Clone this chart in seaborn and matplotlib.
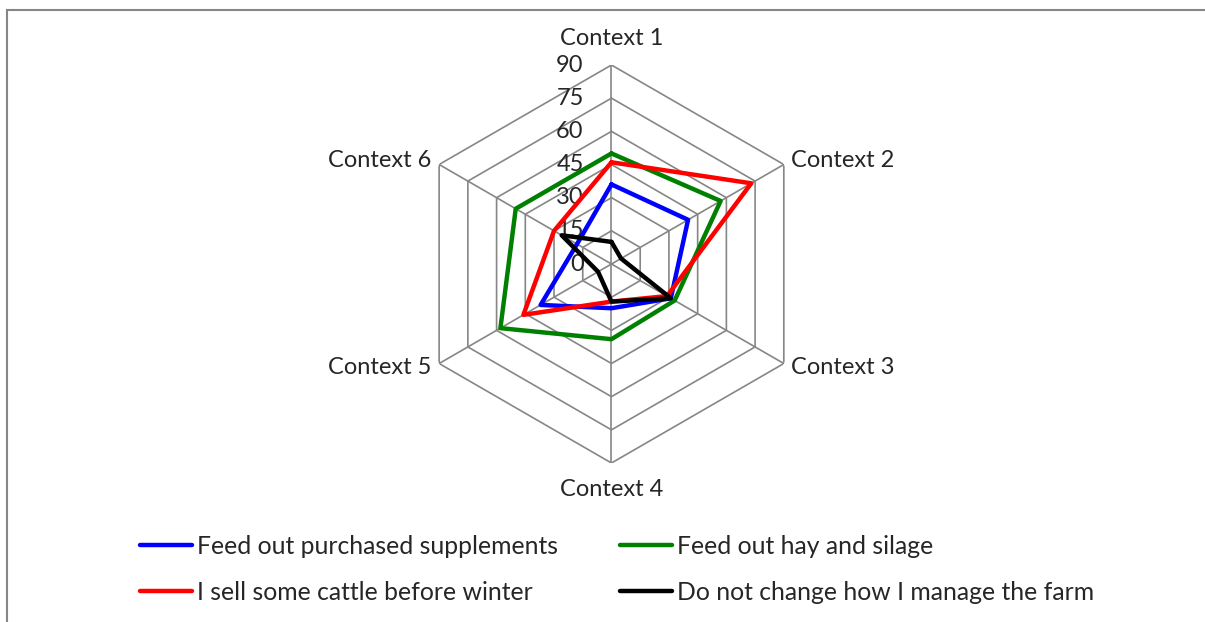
"""
Radar chart: farm management responses across six contexts.
"""
import numpy as np
import pandas as pd
import matplotlib
matplotlib.use("Agg")
import matplotlib.pyplot as plt
from matplotlib.patches import Rectangle
import seaborn as sns

# Data
contexts = ["Context 1", "Context 2", "Context 3", "Context 4", "Context 5", "Context 6"]
supplements = [36, 40, 31, 20, 37, 18]
hay_silage = [50, 57, 33, 34, 58, 50]
sell_cattle = [46, 73, 29, 17, 46, 30]
no_change = [10, 5, 31, 17, 7, 26]
series_names = [
    "Feed out purchased supplements",
    "Feed out hay and silage",
    "I sell some cattle before winter",
    "Do not change how I manage the farm",
]
series_colors = ["#0000FF", "#008000", "#FF0000", "#000000"]
r_ticks = [0, 15, 30, 45, 60, 75, 90]

sns.set_style("white")
plt.rcParams["font.family"] = ["Lato", "DejaVu Sans"]
FS = 17
LEG_FS = 17.8
GRID = "#868686"

# long table, each polygon closed by repeating its first point
angles = np.linspace(0, 2 * np.pi, len(contexts), endpoint=False)
angles_closed = np.append(angles, 2 * np.pi)
rows = []
for name, vals in zip(series_names, [supplements, hay_silage, sell_cattle, no_change]):
    for i, (a, v) in enumerate(zip(angles_closed, vals + vals[:1])):
        rows.append({"series": name, "angle": a, "value": v, "order": i})
df = pd.DataFrame(rows)

fig = plt.figure(figsize=(12.05, 6.22), dpi=100)
ax = fig.add_axes([0.3423, 0.2556, 0.3303, 0.6399], projection="polar")
ax.set_theta_zero_location("N")
ax.set_theta_direction(-1)
ax.set_ylim(0, 90)
ax.grid(False)
ax.spines["polar"].set_visible(False)
ax.set_xticks([])
ax.set_yticks([])
ax.patch.set_alpha(0)

# hexagonal grid
for r in r_ticks[1:]:
    ax.plot(angles_closed, [r] * len(angles_closed), color=GRID, lw=1.2, zorder=1)
for a in angles:
    ax.plot([a, a], [0, 90], color=GRID, lw=1.2, zorder=1)

sns.lineplot(data=df, x="angle", y="value", hue="series", hue_order=series_names,
             palette=series_colors, sort=False, estimator=None, units="series",
             linewidth=3.2, ax=ax, legend=False, zorder=3)
ax.set_xlabel("")
ax.set_ylabel("")
ax.set_ylim(0, 90)

# value labels left of the top spoke
for v in r_ticks:
    ax.annotate(str(v), xy=(0, v), xytext=(-20, 0), textcoords="offset points",
                ha="right", va="center", fontsize=FS, zorder=2)

# category labels
offsets = [((0, 19), "center"), ((5.5, 3), "left"), ((5.5, -3), "left"),
           ((0, -19), "center"), ((-5.5, -3), "right"), ((-5.5, 3), "right")]
for a, lab, (off, ha) in zip(angles, contexts, offsets):
    ax.annotate(lab, xy=(a, 90), xytext=off, textcoords="offset points",
                ha=ha, va="center", fontsize=FS)

# legend, row by row like the original
handles = [plt.Line2D([], [], color=c, lw=3.2) for c in series_colors]
order = [0, 2, 1, 3]
fig.legend([handles[i] for i in order], [series_names[i] for i in order],
           ncol=2, loc="upper left", bbox_to_anchor=(0.108, 0.156),
           frameon=False, fontsize=LEG_FS, handlelength=2.1, handletextpad=0.2,
           columnspacing=2.5, labelspacing=0.93, borderaxespad=0)

# chart area border
fig.patches.append(Rectangle((7 / 1205, -0.1), 1.2, (622 - 10) / 622 + 0.1,
                             transform=fig.transFigure, fill=False,
                             edgecolor=GRID, lw=1.5))

fig.savefig("out.png", dpi=100)
plt.close()
